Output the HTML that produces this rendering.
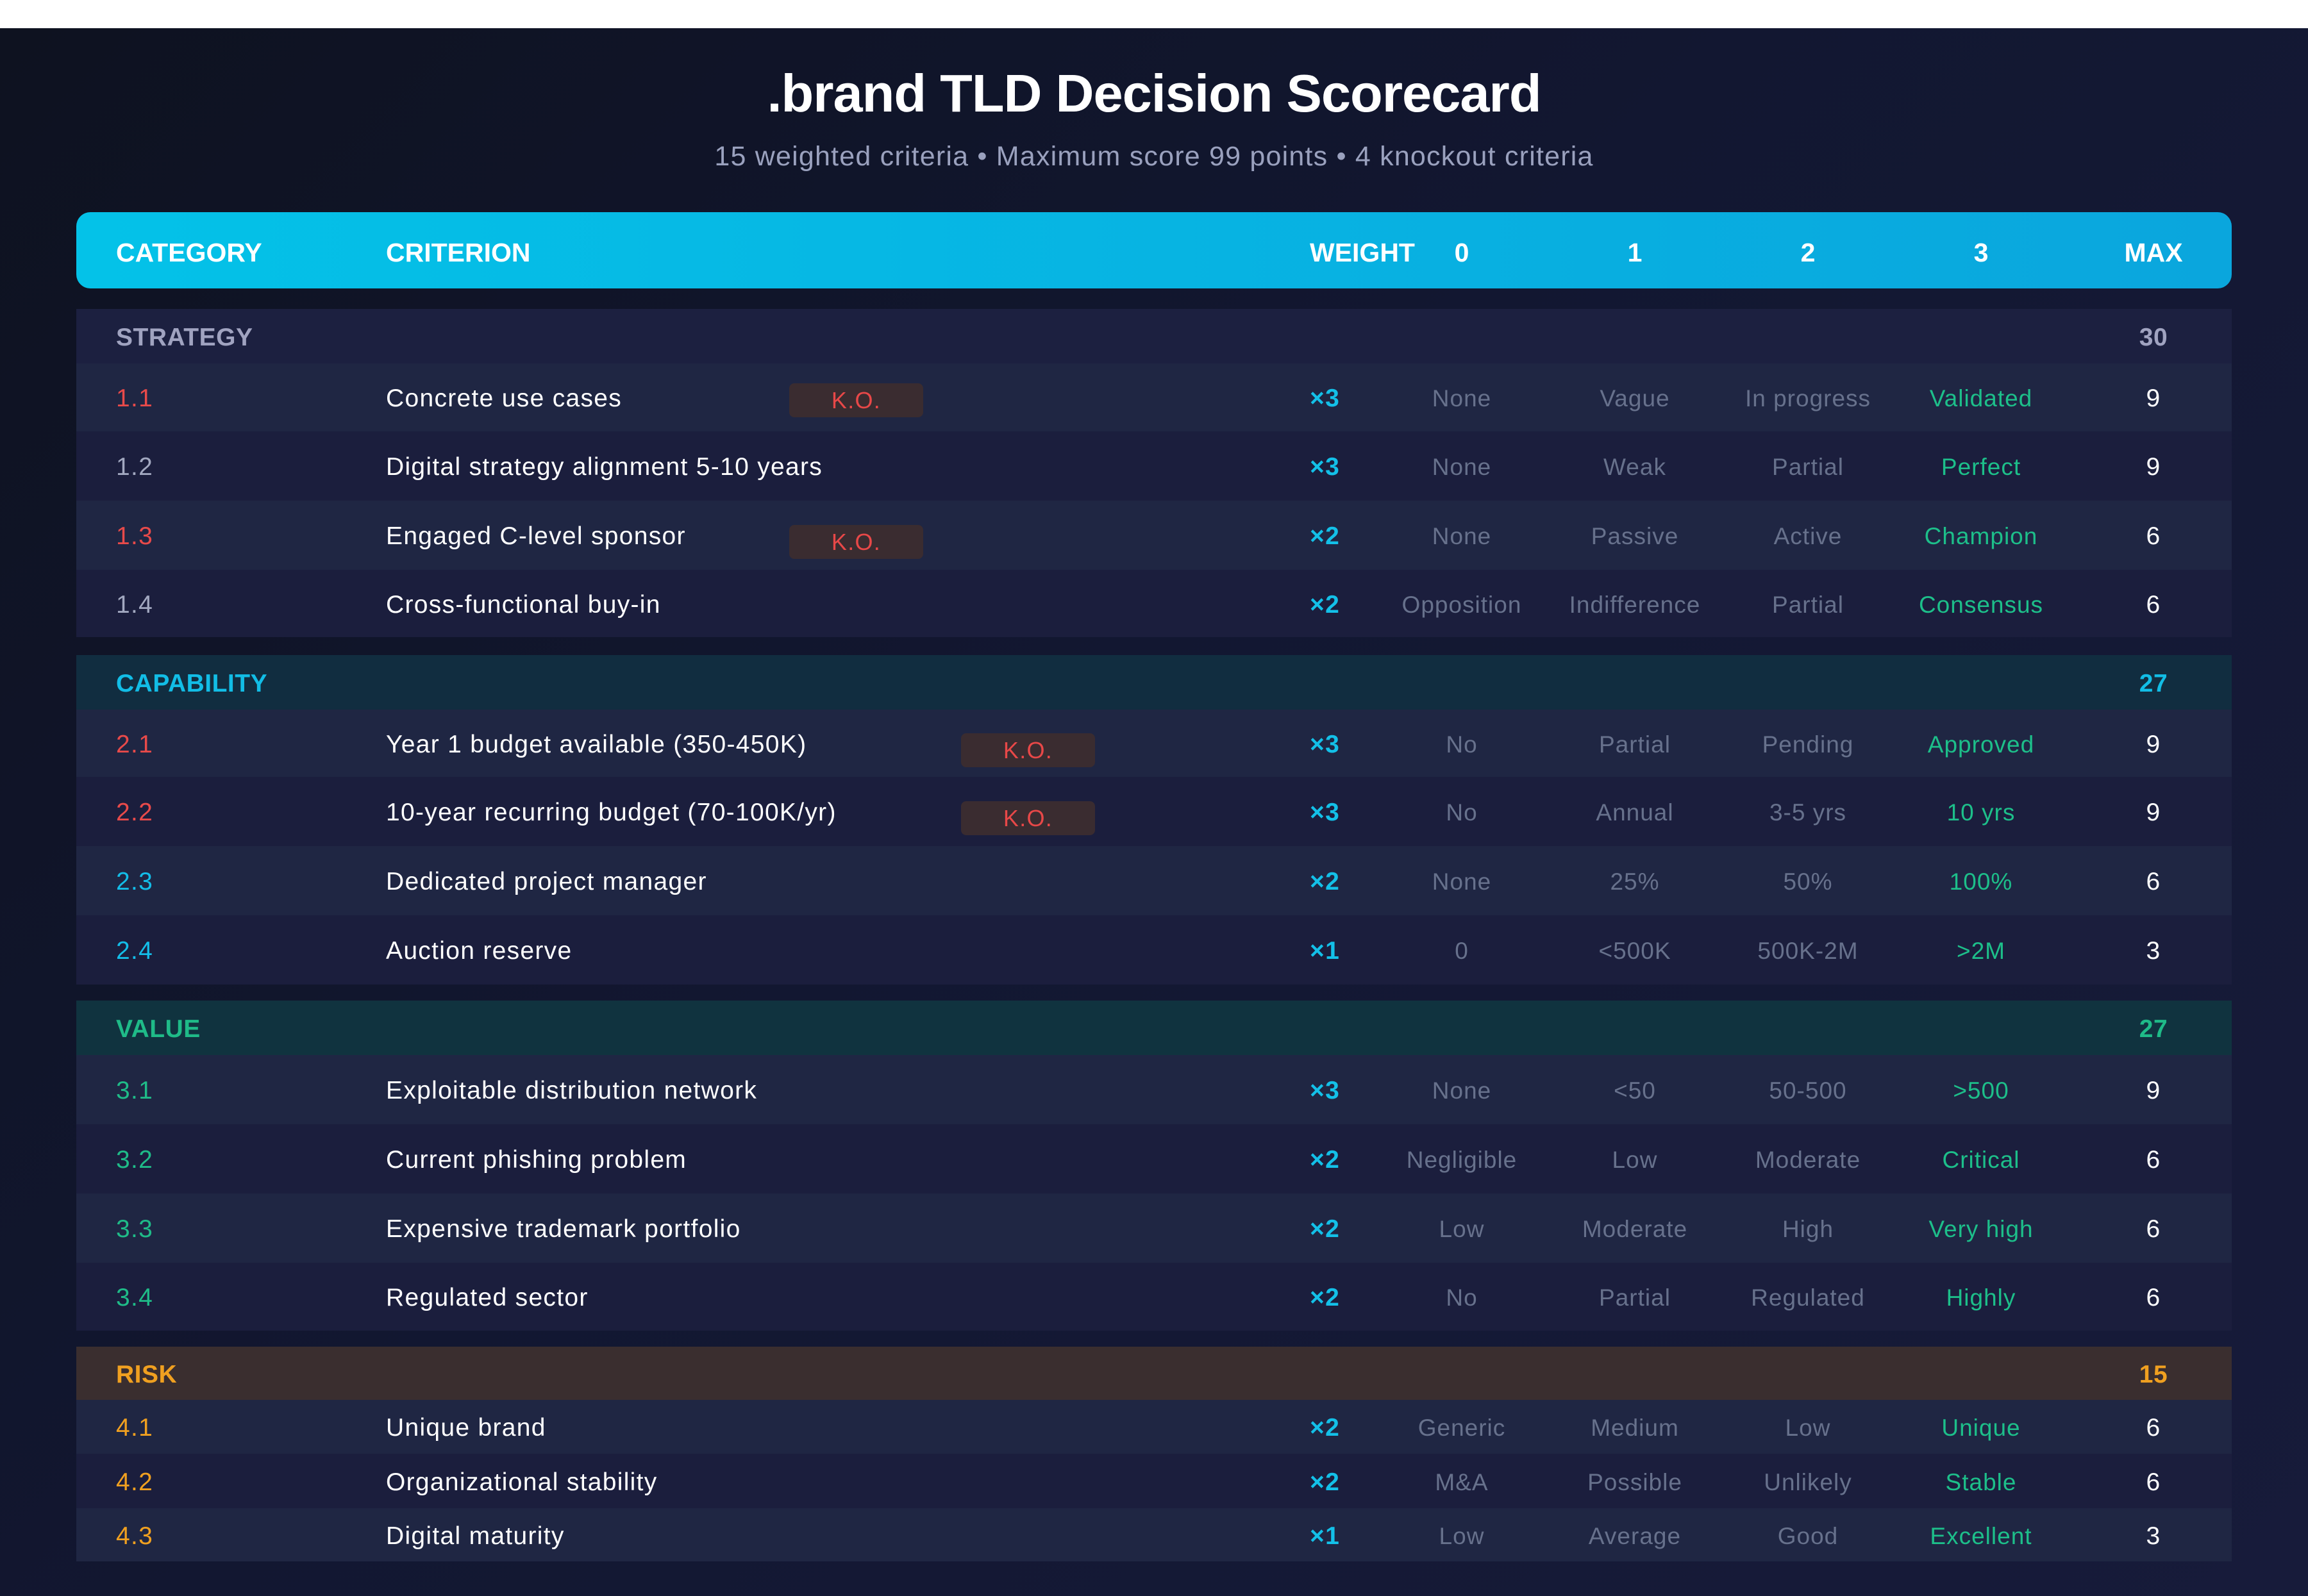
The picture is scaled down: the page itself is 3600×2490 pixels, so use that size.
<!DOCTYPE html>
<html><head><meta charset="utf-8"><style>
*{margin:0;padding:0;box-sizing:border-box}
body{width:3600px;height:2490px;background:#fff;font-family:"Liberation Sans",sans-serif;overflow:hidden;position:relative}
.bg{position:absolute;left:0;top:44px;width:3600px;height:2446px;background:linear-gradient(135deg,#0e1220 0%,#121731 45%,#171b3a 100%)}
h1{position:absolute;top:98px;width:3600px;text-align:center;color:#fff;font-size:83px;font-weight:bold;letter-spacing:-1px}
.sub{position:absolute;top:220px;width:3600px;text-align:center;color:#9aa1be;font-size:43px;letter-spacing:1.2px}
.hdr{position:absolute;left:119px;top:331px;width:3362px;height:119px;border-radius:22px;background:linear-gradient(90deg,#04c2e8,#0aa6dd);color:#fff;font-weight:bold;font-size:41px;padding-top:8px}
.row,.sec,.hdr{display:flex;align-items:center}
.row,.sec{position:absolute;left:119px;width:3362px}
.c0{width:483px;padding-left:62px}
.c1{width:1441px;position:relative}
.cw{width:102px}
.lv{width:270px;text-align:center}
.mx{width:256px;text-align:center;padding-left:12px}
.row{font-size:39px;color:#fff;letter-spacing:1.3px;padding-top:4px}
.row .lv{color:#67718c;font-size:37px;letter-spacing:1px}
.row .g{color:#1dbf8a}
.row .cw{color:#13c0e8;font-weight:bold}
.a{background:#1f2643}.b{background:#1b1e3d}
.sec{font-size:39px;font-weight:bold;letter-spacing:0.5px;padding-top:4px}
.ko{position:absolute;top:50%;margin-top:-24px;width:209px;height:53px;background:#3a2c30;border-radius:8px;color:#e84848;font-size:36px;text-align:center;line-height:53px}
.r{color:#e84a4a}.gr{color:#a2a8c0}.cy{color:#13bde8}.gn{color:#1fbb88}.or{color:#f0a020}
</style></head><body>
<div class="bg"></div>
<h1>.brand TLD Decision Scorecard</h1>
<div class="sub">15 weighted criteria • Maximum score 99 points • 4 knockout criteria</div>
<div class="hdr"><div class="c0">CATEGORY</div><div class="c1">CRITERION</div><div class="cw">WEIGHT</div><div class="lv">0</div><div class="lv">1</div><div class="lv">2</div><div class="lv">3</div><div class="mx">MAX</div></div>

<div class="sec" style="top:482px;height:85px;background:#1c2040;color:#a0a3c0"><div class="c0">STRATEGY</div><div class="c1"></div><div class="cw"></div><div class="lv"></div><div class="lv"></div><div class="lv"></div><div class="lv"></div><div class="mx">30</div></div>
<div class="row a" style="top:567px;height:106px"><div class="c0 r">1.1</div><div class="c1">Concrete use cases<span class="ko" style="left:629px">K.O.</span></div><div class="cw">×3</div><div class="lv">None</div><div class="lv">Vague</div><div class="lv">In progress</div><div class="lv g">Validated</div><div class="mx">9</div></div>
<div class="row b" style="top:673px;height:108px"><div class="c0 gr">1.2</div><div class="c1">Digital strategy alignment 5-10 years</div><div class="cw">×3</div><div class="lv">None</div><div class="lv">Weak</div><div class="lv">Partial</div><div class="lv g">Perfect</div><div class="mx">9</div></div>
<div class="row a" style="top:781px;height:108px"><div class="c0 r">1.3</div><div class="c1">Engaged C-level sponsor<span class="ko" style="left:629px;margin-top:-18px">K.O.</span></div><div class="cw">×2</div><div class="lv">None</div><div class="lv">Passive</div><div class="lv">Active</div><div class="lv g">Champion</div><div class="mx">6</div></div>
<div class="row b" style="top:889px;height:105px"><div class="c0 gr">1.4</div><div class="c1">Cross-functional buy-in</div><div class="cw">×2</div><div class="lv">Opposition</div><div class="lv">Indifference</div><div class="lv">Partial</div><div class="lv g">Consensus</div><div class="mx">6</div></div>

<div class="sec" style="top:1022px;height:85px;background:#112d40;color:#12bde6"><div class="c0">CAPABILITY</div><div class="c1"></div><div class="cw"></div><div class="lv"></div><div class="lv"></div><div class="lv"></div><div class="lv"></div><div class="mx">27</div></div>
<div class="row a" style="top:1107px;height:105px"><div class="c0 r">2.1</div><div class="c1">Year 1 budget available (350-450K)<span class="ko" style="left:897px;margin-top:-18px">K.O.</span></div><div class="cw">×3</div><div class="lv">No</div><div class="lv">Partial</div><div class="lv">Pending</div><div class="lv g">Approved</div><div class="mx">9</div></div>
<div class="row b" style="top:1212px;height:108px"><div class="c0 r">2.2</div><div class="c1">10-year recurring budget (70-100K/yr)<span class="ko" style="left:897px;margin-top:-18px">K.O.</span></div><div class="cw">×3</div><div class="lv">No</div><div class="lv">Annual</div><div class="lv">3-5 yrs</div><div class="lv g">10 yrs</div><div class="mx">9</div></div>
<div class="row a" style="top:1320px;height:108px"><div class="c0 cy">2.3</div><div class="c1">Dedicated project manager</div><div class="cw">×2</div><div class="lv">None</div><div class="lv">25%</div><div class="lv">50%</div><div class="lv g">100%</div><div class="mx">6</div></div>
<div class="row b" style="top:1428px;height:108px"><div class="c0 cy">2.4</div><div class="c1">Auction reserve</div><div class="cw">×1</div><div class="lv">0</div><div class="lv">&lt;500K</div><div class="lv">500K-2M</div><div class="lv g">&gt;2M</div><div class="mx">3</div></div>

<div class="sec" style="top:1561px;height:85px;background:#10333f;color:#1fbb88"><div class="c0">VALUE</div><div class="c1"></div><div class="cw"></div><div class="lv"></div><div class="lv"></div><div class="lv"></div><div class="lv"></div><div class="mx">27</div></div>
<div class="row a" style="top:1646px;height:108px"><div class="c0 gn">3.1</div><div class="c1">Exploitable distribution network</div><div class="cw">×3</div><div class="lv">None</div><div class="lv">&lt;50</div><div class="lv">50-500</div><div class="lv g">&gt;500</div><div class="mx">9</div></div>
<div class="row b" style="top:1754px;height:108px"><div class="c0 gn">3.2</div><div class="c1">Current phishing problem</div><div class="cw">×2</div><div class="lv">Negligible</div><div class="lv">Low</div><div class="lv">Moderate</div><div class="lv g">Critical</div><div class="mx">6</div></div>
<div class="row a" style="top:1862px;height:108px"><div class="c0 gn">3.3</div><div class="c1">Expensive trademark portfolio</div><div class="cw">×2</div><div class="lv">Low</div><div class="lv">Moderate</div><div class="lv">High</div><div class="lv g">Very high</div><div class="mx">6</div></div>
<div class="row b" style="top:1970px;height:106px"><div class="c0 gn">3.4</div><div class="c1">Regulated sector</div><div class="cw">×2</div><div class="lv">No</div><div class="lv">Partial</div><div class="lv">Regulated</div><div class="lv g">Highly</div><div class="mx">6</div></div>

<div class="sec" style="top:2101px;height:83px;background:#3a2e2f;color:#f0a020"><div class="c0">RISK</div><div class="c1"></div><div class="cw"></div><div class="lv"></div><div class="lv"></div><div class="lv"></div><div class="lv"></div><div class="mx">15</div></div>
<div class="row a" style="top:2184px;height:84px"><div class="c0 or">4.1</div><div class="c1">Unique brand</div><div class="cw">×2</div><div class="lv">Generic</div><div class="lv">Medium</div><div class="lv">Low</div><div class="lv g">Unique</div><div class="mx">6</div></div>
<div class="row b" style="top:2268px;height:85px"><div class="c0 or">4.2</div><div class="c1">Organizational stability</div><div class="cw">×2</div><div class="lv">M&amp;A</div><div class="lv">Possible</div><div class="lv">Unlikely</div><div class="lv g">Stable</div><div class="mx">6</div></div>
<div class="row a" style="top:2353px;height:83px"><div class="c0 or">4.3</div><div class="c1">Digital maturity</div><div class="cw">×1</div><div class="lv">Low</div><div class="lv">Average</div><div class="lv">Good</div><div class="lv g">Excellent</div><div class="mx">3</div></div>
</body></html>
